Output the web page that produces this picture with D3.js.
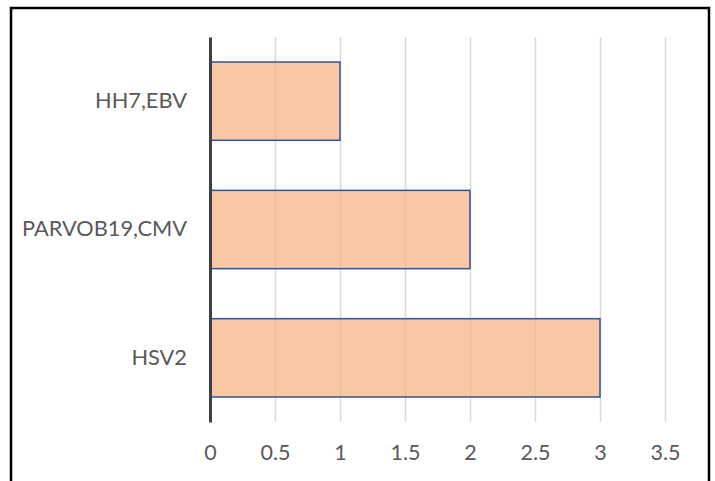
<!DOCTYPE html>
<html>
<head>
<meta charset="utf-8">
<script src="https://cdn.jsdelivr.net/npm/d3@7"></script>
<style>
  html, body { margin: 0; padding: 0; background: #fff; }
  text { font-family: Lato, "Noto Sans", sans-serif; fill: #595959; }
</style>
</head>
<body>
<div id="chart"></div>
<script>
// data
const categories = ['HH7,EBV', 'PARVOB19,CMV', 'HSV2'];
const values = [1, 2, 3];
const xTicks = [0, 0.5, 1, 1.5, 2, 2.5, 3, 3.5];

const W = 715, H = 481;
const margin = { top: 37, right: 50, bottom: 59, left: 210 };
const width = W - margin.left - margin.right;
const height = H - margin.top - margin.bottom;

let svg = d3.select('#chart')
  .append('svg')
  .attr('width', W)
  .attr('height', H);

// outer frame
svg.append('rect')
  .attr('x', 11).attr('y', 8)
  .attr('width', 698).attr('height', 520)
  .attr('fill', 'none')
  .attr('stroke', '#000')
  .attr('stroke-width', 2.5);

let g = svg.append('g')
  .attr('transform', `translate(${margin.left}, ${margin.top})`);

let xScale = d3.scaleLinear()
  .domain([0, 3.5])
  .range([0, width]);

let yScale = d3.scaleBand()
  .domain(categories)
  .range([0, height])
  .paddingInner(0.39)
  .paddingOuter(0.195);

// gridlines
let grid = d3.axisBottom(xScale)
  .tickValues(xTicks.slice(1))
  .tickSize(-height)
  .tickFormat('');
g.append('g')
  .attr('transform', `translate(0, ${height})`)
  .call(grid)
  .call(s => s.select('.domain').remove())
  .selectAll('line')
  .attr('stroke', '#d9d9d9')
  .attr('stroke-width', 1.5);

// bars
g.selectAll('rect.bar')
  .data(values)
  .enter()
  .append('rect')
  .attr('class', 'bar')
  .attr('x', xScale(0))
  .attr('y', (d, i) => yScale(categories[i]))
  .attr('width', d => xScale(d) - xScale(0))
  .attr('height', yScale.bandwidth())
  .attr('fill', '#f4b183')
  .attr('fill-opacity', 0.72)
  .attr('stroke', '#2f5597')
  .attr('stroke-width', 1.5);

// x tick labels
let xAxis = d3.axisBottom(xScale)
  .tickValues(xTicks)
  .tickSize(0)
  .tickPadding(23)
  .tickFormat(d3.format('~g'));
g.append('g')
  .attr('transform', `translate(0, ${height})`)
  .call(xAxis)
  .call(s => s.select('.domain').remove())
  .selectAll('text')
  .attr('font-size', 21.5)
  .attr('fill', '#595959');

// category axis
let yAxis = d3.axisLeft(yScale)
  .tickSize(0)
  .tickPadding(23);
g.append('g')
  .call(yAxis)
  .call(s => s.select('.domain')
    .attr('stroke', '#404040')
    .attr('stroke-width', 3))
  .selectAll('text')
  .attr('font-size', 21.8)
  .attr('fill', '#595959');
</script>
</body>
</html>
